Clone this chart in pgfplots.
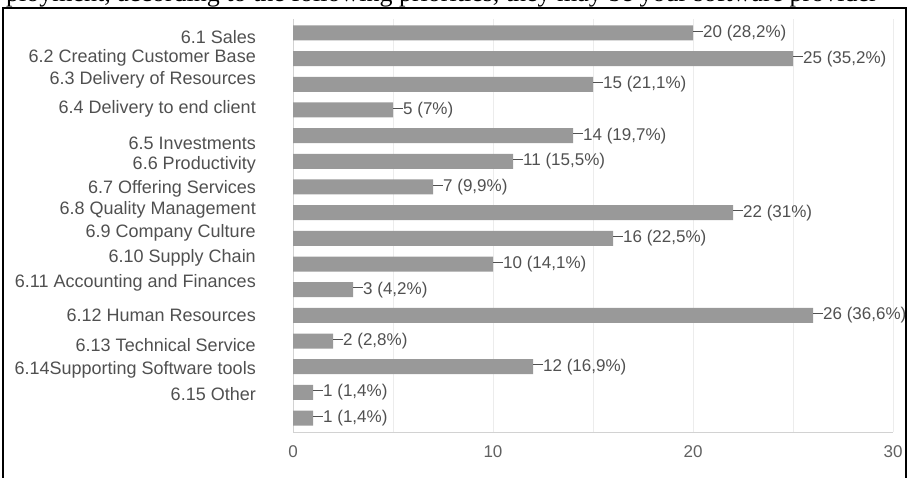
\documentclass[border=0pt]{standalone}
\usepackage{pgfplots}
\pgfplotsset{compat=1.18}
\usepackage{fontspec}
\setmainfont{Liberation Sans}
\newfontfamily\seriffont{Liberation Serif}
\definecolor{barc}{RGB}{153,153,153}
\definecolor{txt}{RGB}{80,80,80}
\definecolor{gridc}{RGB}{236,236,236}
\definecolor{axc}{RGB}{210,210,210}
\begin{document}
\begin{tikzpicture}
\path[use as bounding box] (0,0) rectangle (909bp,-478bp);
\node[anchor=base west, inner sep=0, font=\seriffont\fontsize{26bp}{30bp}\selectfont] at (6bp,-1.5bp) {ployment, according to the following priorities, they may be your software provider};
\draw[line width=1.8bp] (3bp,-479bp) -- (3bp,-8bp) -- (906bp,-8bp) -- (906bp,-479bp);
\begin{axis}[
  at={(293bp,-432bp)}, anchor=south west,
  scale only axis, width=600bp, height=413bp,
  xmin=0, xmax=30, ymin=0.455, ymax=16.545,
  xbar, bar width=15bp, bar shift=0pt,
  axis x line*=bottom, axis y line*=left,
  axis line style={axc, line width=0.8bp},
  xtick={0,10,20,30}, minor xtick={5,15,25},
  xmajorgrids, xminorgrids,
  major grid style={gridc, line width=0.8bp},
  minor grid style={gridc, line width=0.8bp},
  major tick length=0pt, minor tick length=0pt,
  xticklabel style={font=\fontsize{17bp}{20bp}\selectfont, text=txt!90, anchor=north, inner sep=0pt, yshift=-13bp},
  /pgf/number format/assume math mode=true,
  ytick={15.844,15.026,14.169,13.039,11.715,10.858,9.923,9.105,8.209,7.235,6.261,5.014,3.845,2.872,1.937},
  yticklabels={6.1 Sales,6.2 Creating Customer Base,6.3 Delivery of Resources,6.4 Delivery to end client,6.5 Investments,6.6 Productivity,6.7 Offering Services,6.8 Quality Management,6.9 Company Culture,6.10 Supply Chain,6.11 Accounting and Finances,6.12 Human Resources,6.13 Technical Service,6.14Supporting Software tools,6.15 Other},
  yticklabel style={font=\fontsize{18bp}{21bp}\selectfont, text=txt, anchor=east, inner sep=0pt, xshift=-37bp},
  point meta=explicit symbolic,
  nodes near coords={\rule[5.6bp]{10bp}{1bp}\pgfplotspointmeta},
  nodes near coords style={anchor=west, inner sep=0pt, font=\fontsize{17bp}{20bp}\selectfont, text=txt},
  clip=false,
]
\addplot[fill=barc, draw=none] coordinates {
(20,16) [20 (28,2\%)]
(25,15) [25 (35,2\%)]
(15,14) [15 (21,1\%)]
(5,13) [5 (7\%)]
(14,12) [14 (19,7\%)]
(11,11) [11 (15,5\%)]
(7,10) [7 (9,9\%)]
(22,9) [22 (31\%)]
(16,8) [16 (22,5\%)]
(10,7) [10 (14,1\%)]
(3,6) [3 (4,2\%)]
(26,5) [26 (36,6\%)]
(2,4) [2 (2,8\%)]
(12,3) [12 (16,9\%)]
(1,2) [1 (1,4\%)]
(1,1) [1 (1,4\%)]
};
\end{axis}
\end{tikzpicture}
\end{document}
